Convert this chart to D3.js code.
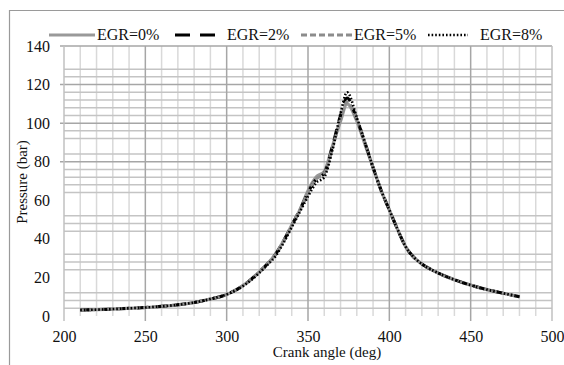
<!DOCTYPE html>
<html>
<head>
<meta charset="utf-8">
<script src="https://cdn.jsdelivr.net/npm/d3@7"></script>
<style>
  body { margin: 0; background: #fff; }
  text { font-family: "Liberation Serif", "Times New Roman", serif; fill: #111; }
</style>
</head>
<body>
<svg id="chart" width="564" height="365"></svg>
<script>
// crank angle (deg)
const angles = [210, 220, 230, 240, 250, 260, 270, 280, 290, 300, 305, 310, 315, 320, 325, 330, 335, 340, 345,
                350, 355, 360, 365, 370, 374, 380, 385, 390, 395, 400, 405, 410, 415, 420, 430, 440,
                450, 460, 470, 480];
// pressure (bar) for each EGR rate
const egr0 = [3.1, 3.3, 3.6, 4.0, 4.4, 5.0, 5.8, 7.0, 8.8, 11.2, 13.2, 15.8, 19, 22.8, 27, 32, 39, 47, 55,
              65, 72, 75, 88, 101, 110, 101, 89, 77, 65, 55, 45, 36, 30.5, 27, 22.3, 18.8, 16, 13.7, 11.8, 10];
const egr2 = [3.1, 3.3, 3.6, 4.0, 4.4, 5.0, 5.8, 7.0, 8.8, 11.2, 13.2, 15.8, 19, 22.8, 27, 32, 39, 47, 55,
              64, 71, 74, 88, 104, 113, 102, 90, 77, 65, 55, 45, 36, 30.5, 27, 22.3, 18.8, 16, 13.7, 11.8, 10];
const egr5 = [3.1, 3.3, 3.6, 4.0, 4.4, 5.0, 5.8, 7.0, 8.8, 11.2, 13.2, 15.8, 19, 22.8, 27, 32, 39, 47, 55,
              64, 71, 74, 87, 102, 111, 102, 90, 77, 65, 55, 45, 36, 30.5, 27, 22.3, 18.8, 16, 13.7, 11.8, 10];
const egr8 = [3.1, 3.3, 3.6, 4.0, 4.4, 5.0, 5.8, 7.0, 8.8, 11.2, 13.0, 15.5, 18.6, 22.3, 26.5, 31, 38, 46, 54,
              62, 69, 72, 86, 105, 116, 103, 90, 77, 65, 55, 45, 36, 30.5, 27, 22.3, 18.8, 16, 13.7, 11.8, 10];

const seriesNames = ["EGR=0%", "EGR=2%", "EGR=5%", "EGR=8%"];
const xTicks = [200, 250, 300, 350, 400, 450, 500];
const yTicks = [0, 20, 40, 60, 80, 100, 120, 140];
// gridlines that show in the picture
const yMajorGrid = [80, 100, 120, 140];
const yMinorGrid = [4, 8, 12, 24, 28, 32, 44, 48, 52, 64, 68, 72, 76, 84, 92, 96, 104, 108, 112, 116, 124, 128];

const svg = d3.select("#chart");

const x = d3.scaleLinear().domain([200, 500]).range([64, 552]);
const y = d3.scaleLinear().domain([0, 140]).range([316, 46]);

// outer frame (only left and top edges show)
svg.append("line").attr("x1", 9.5).attr("x2", 9.5).attr("y1", 10).attr("y2", 365)
    .attr("stroke", "#9a9a9a").attr("stroke-width", 1.2);
svg.append("line").attr("x1", 9).attr("x2", 564).attr("y1", 10.5).attr("y2", 10.5)
    .attr("stroke", "#9a9a9a").attr("stroke-width", 1.2);

const grid = svg.append("g");

// vertical gridlines every 10 deg, darker every 50
grid.selectAll(".vminor")
    .data(d3.range(210, 500, 10).filter(d => d % 50 !== 0))
    .enter().append("line")
    .attr("x1", d => x(d)).attr("x2", d => x(d))
    .attr("y1", y(140)).attr("y2", y(0))
    .attr("stroke", "#d9d9d9").attr("stroke-width", 1.5);

grid.selectAll(".hminor")
    .data(yMinorGrid)
    .enter().append("line")
    .attr("x1", x(200)).attr("x2", x(500))
    .attr("y1", d => y(d)).attr("y2", d => y(d))
    .attr("stroke", "#c4c4c4").attr("stroke-width", 1.5);

grid.selectAll(".hmajor")
    .data(yMajorGrid)
    .enter().append("line")
    .attr("x1", x(200) - 4).attr("x2", x(500))
    .attr("y1", d => y(d)).attr("y2", d => y(d))
    .attr("stroke", "#a6a6a6").attr("stroke-width", 1.5);

grid.selectAll(".vmajor")
    .data(xTicks)
    .enter().append("line")
    .attr("x1", d => x(d)).attr("x2", d => x(d))
    .attr("y1", y(140)).attr("y2", y(0) + 5)
    .attr("stroke", d => (d === 200 || d === 500) ? "#c0c0c0" : "#a6a6a6")
    .attr("stroke-width", 1.5);

// axis labels
const xAxis = svg.append("g")
    .attr("transform", `translate(0,${y(0)})`)
    .call(d3.axisBottom(x).tickValues(xTicks).tickSize(0).tickPadding(15));
const yAxis = svg.append("g")
    .attr("transform", `translate(${x(200)},0)`)
    .call(d3.axisLeft(y).tickValues(yTicks).tickSize(0).tickPadding(14));
[xAxis, yAxis].forEach(g => {
    g.select(".domain").remove();
    g.selectAll("text")
        .style("font-family", '"Liberation Serif", serif')
        .style("font-size", "16px")
        .attr("fill", "#111");
});

svg.append("text")
    .attr("x", 327).attr("y", 357)
    .attr("text-anchor", "middle")
    .style("font-size", "15px")
    .text("Crank angle (deg)");

svg.append("text")
    .attr("transform", "translate(27,182) rotate(-90)")
    .attr("text-anchor", "middle")
    .style("font-size", "15px")
    .text("Pressure (bar)");

// series
const styles = [
    {stroke: "#999999", width: 3.2, dash: null},
    {stroke: "#000000", width: 3, dash: "11,8"},
    {stroke: "#8c8c8c", width: 3, dash: "6,3"},
    {stroke: "#000000", width: 2.6, dash: "1.6,2"}
];
const allSeries = [egr0, egr2, egr5, egr8];

const line = d3.line()
    .x(d => x(d[0]))
    .y(d => y(d[1]))
    .curve(d3.curveMonotoneX);

allSeries.forEach((vals, i) => {
    svg.append("path")
        .datum(angles.map((a, j) => [a, vals[j]]))
        .attr("fill", "none")
        .attr("stroke", styles[i].stroke)
        .attr("stroke-width", styles[i].width)
        .attr("stroke-dasharray", styles[i].dash)
        .attr("d", line);
});

// legend
const legendLines = [[49, 95], [175, 215], [301, 352], [428, 468]];
const legendText = [97, 227, 354, 480];
const legendY = 35;
const legend = svg.append("g");
seriesNames.forEach((name, i) => {
    legend.append("line")
        .attr("x1", legendLines[i][0]).attr("x2", legendLines[i][1])
        .attr("y1", legendY).attr("y2", legendY)
        .attr("stroke", styles[i].stroke)
        .attr("stroke-width", styles[i].width)
        .attr("stroke-dasharray", i === 1 ? "15,10" : styles[i].dash);
    legend.append("text")
        .attr("x", legendText[i]).attr("y", legendY + 5)
        .style("font-size", "16px")
        .text(name);
});
</script>
</body>
</html>
